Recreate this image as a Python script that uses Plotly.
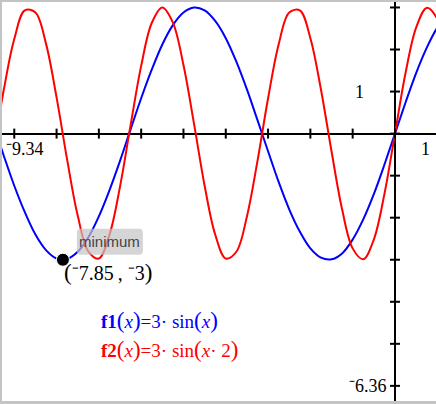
import plotly.graph_objects as go

# ---- data ----
x_samples = [-9.5, -9.25, -9.0, -8.75, -8.5, -8.25, -8.0, -7.75, -7.5, -7.25,
             -7.0, -6.75, -6.5, -6.25, -6.0, -5.75, -5.5, -5.25, -5.0, -4.75,
             -4.5, -4.25, -4.0, -3.75, -3.5, -3.25, -3.0, -2.75, -2.5, -2.25,
             -2.0, -1.75, -1.5, -1.25, -1.0, -0.75, -0.5, -0.25, 0.0, 0.25,
             0.5, 0.75, 1.0, 1.25]
f1_values = [0.23, -0.52, -1.24, -1.87, -2.40, -2.77, -2.97, -2.98, -2.81, -2.47,
             -1.97, -1.35, -0.65, 0.10, 0.84, 1.52, 2.12, 2.58, 2.88, 3.00,
             2.93, 2.68, 2.27, 1.71, 1.05, 0.32, -0.42, -1.15, -1.80, -2.33,
             -2.73, -2.95, -2.99, -2.85, -2.52, -2.04, -1.44, -0.74, 0.0, 0.74,
             1.44, 2.04, 2.52, 2.85]
f2_values = [-0.45, 1.03, 2.25, 2.93, 2.88, 2.14, 0.86, -0.62, -1.95, -2.80,
             -2.97, -2.41, -1.26, 0.20, 1.61, 2.63, 3.00, 2.64, 1.63, 0.23,
             -1.24, -2.40, -2.97, -2.81, -1.97, -0.65, 0.84, 2.12, 2.88, 2.93,
             2.27, 1.05, -0.42, -1.80, -2.73, -2.99, -2.52, -1.44, 0.0, 1.44,
             2.52, 2.99, 2.73, 1.80]
min_point = [-7.85, -3]
x_ticks = [-9, -8, -7, -6, -5, -4, -3, -2, -1, 0]
y_ticks = [-6, -5, -4, -3, -2, -1, 0, 1, 2, 3]
x_window_labels = ["\u207b9.34", "1"]
y_window_labels = ["1", "\u207b6.36"]
x_view = [-9.29, 0.97]
y_view = [-6.36, 3.13]

BLUE = "#0000ff"
RED = "#ff0000"
SERIF = "Liberation Serif, Times New Roman, serif"


def ti_num(v):
    s = f"{abs(v):g}"
    return ("\u207b" + s) if v < 0 else s


fig = go.Figure()
fig.add_trace(go.Scatter(x=x_samples, y=f1_values, mode="lines",
                         line=dict(color=BLUE, width=2, shape="spline"),
                         hoverinfo="skip", showlegend=False))
fig.add_trace(go.Scatter(x=x_samples, y=f2_values, mode="lines",
                         line=dict(color=RED, width=2, shape="spline"),
                         hoverinfo="skip", showlegend=False))
fig.add_trace(go.Scatter(x=[min_point[0]], y=[min_point[1]], mode="markers",
                         marker=dict(color="black", size=13,
                                     line=dict(color="white", width=1)),
                         hoverinfo="skip", showlegend=False))

shapes = []
for t in x_ticks:
    shapes.append(dict(type="line", xref="x", yref="y", ysizemode="pixel",
                       yanchor=0, x0=t, x1=t, y0=-5, y1=5,
                       line=dict(color="black", width=2)))
for t in y_ticks:
    shapes.append(dict(type="line", xref="x", yref="y", xsizemode="pixel",
                       xanchor=0, y0=t, y1=t, x0=-5, x1=5,
                       line=dict(color="black", width=2)))
# tooltip box near the minimum point
shapes.append(dict(type="path", xref="x", yref="y",
                   xsizemode="pixel", ysizemode="pixel",
                   xanchor=min_point[0], yanchor=min_point[1],
                   path="M 18,5 L 76,5 Q 80,5 80,9 L 80,27 Q 80,31 76,31 "
                        "L 18,31 Q 14,31 14,27 L 14,9 Q 14,5 18,5 Z",
                   fillcolor="rgba(195,195,195,0.7)", line=dict(width=0),
                   layer="above"))

big = "<span style='font-size:23px'>"
annotations = [
    dict(text="minimum", x=min_point[0], y=min_point[1], xref="x", yref="y",
         xshift=47, yshift=18, showarrow=False,
         font=dict(family="Liberation Sans, Arial, sans-serif", size=15,
                   color="#444444")),
    dict(text=big + "(</span>" + ti_num(min_point[0]) + "\u2009, " +
         ti_num(min_point[1]) + big + ")</span>",
         x=min_point[0], y=min_point[1], xref="x", yref="y",
         xshift=45, yshift=-13, showarrow=False,
         font=dict(family=SERIF, size=20, color="black")),
    dict(text=x_window_labels[0], x=0, y=0, xref="paper", yref="y",
         xanchor="left", yanchor="top", xshift=2, yshift=-3, showarrow=False,
         font=dict(family=SERIF, size=18, color="black")),
    dict(text=x_window_labels[1], x=1, y=0, xref="paper", yref="y",
         xanchor="right", yanchor="top", xshift=-4, yshift=-3, showarrow=False,
         font=dict(family=SERIF, size=18, color="black")),
    dict(text=y_window_labels[0], x=0, y=1, xref="x", yref="y",
         xanchor="center", yanchor="middle", xshift=-35, showarrow=False,
         font=dict(family=SERIF, size=18, color="black")),
    dict(text=y_window_labels[1], x=0, y=0, xref="x", yref="paper",
         xanchor="right", yanchor="bottom", xshift=-6, yshift=3, showarrow=False,
         font=dict(family=SERIF, size=18, color="black")),
    dict(text="<b>f1</b>" + big + "(</span><i>x</i>" + big + ")</span>=3· sin" +
         big + "(</span><i>x</i>" + big + ")</span>",
         x=0.224, y=0.203, xref="paper", yref="paper", xanchor="left",
         yanchor="middle", showarrow=False,
         font=dict(family=SERIF, size=19, color=BLUE)),
    dict(text="<b>f2</b>" + big + "(</span><i>x</i>" + big + ")</span>=3· sin" +
         big + "(</span><i>x</i>· 2" + big + ")</span>",
         x=0.224, y=0.128, xref="paper", yref="paper", xanchor="left",
         yanchor="middle", showarrow=False,
         font=dict(family=SERIF, size=19, color=RED)),
]

axis_common = dict(showgrid=False, showticklabels=False, ticks="",
                   showline=False, zeroline=True, zerolinecolor="black",
                   zerolinewidth=2, fixedrange=True)
fig.update_layout(
    width=436, height=404,
    margin=dict(l=2, r=0, t=2, b=3),
    paper_bgcolor="#c4c4c4", plot_bgcolor="white",
    xaxis=dict(range=x_view, **axis_common),
    yaxis=dict(range=y_view, **axis_common),
    shapes=shapes, annotations=annotations,
    showlegend=False,
)
fig.write_html("out.html", config={"displayModeBar": False},
               post_script="document.body.style.margin='0';"
                           "document.body.style.padding='0';"
                           "document.body.style.overflow='hidden';")
